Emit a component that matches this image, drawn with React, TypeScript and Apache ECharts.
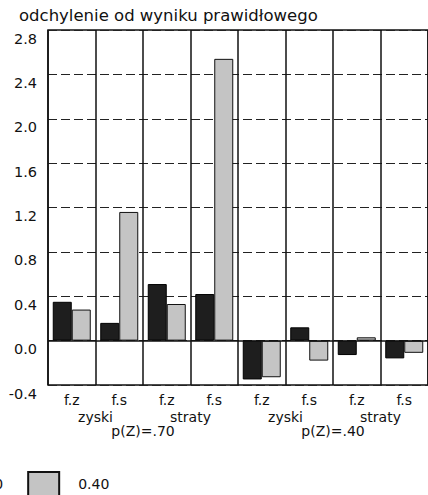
import React, { useEffect, useRef } from "react";
import * as echarts from "echarts";

const categories = ["f.z", "f.s", "f.z", "f.s", "f.z", "f.s", "f.z", "f.s"];
const subGroups = ["zyski", "straty", "zyski", "straty"];
const groups = ["p(Z)=.70", "p(Z)=.40"];
const darkName = "0.70";
const lightName = "0.40";
const darkValues = [0.35, 0.16, 0.51, 0.42, -0.35, 0.12, -0.13, -0.16];
const lightValues = [0.28, 1.16, 0.33, 2.54, -0.33, -0.18, 0.03, -0.11];
const yTicks = { min: -0.4, max: 2.8, interval: 0.4 };

const FONT = "DejaVu Sans";

export default function App() {
  const ref = useRef<HTMLDivElement>(null);
  useEffect(() => {
    document.body.style.margin = "0";
    const chart = echarts.init(ref.current!, null, { renderer: "svg" });
    const xLabelBase = {
      color: "#111",
      fontFamily: FONT,
      fontSize: 14,
      margin: 8,
    };
    chart.setOption({
      animation: false,
      backgroundColor: "#ffffff",
      title: {
        text: "odchylenie od wyniku prawidłowego",
        left: 14,
        top: 2,
        textStyle: { fontFamily: FONT, fontSize: 16.5, fontWeight: "normal", color: "#111" },
      },
      legend: {
        left: -84,
        top: 466,
        itemWidth: 31,
        itemHeight: 24,
        itemGap: 24,
        icon: "rect",
        textStyle: { fontFamily: FONT, fontSize: 14, color: "#111", padding: [0, 0, 8, 14] },
        data: [darkName, lightName],
      },
      grid: {
        left: 48,
        right: -9,
        top: 30,
        bottom: 110,
        show: true,
        borderColor: "#111",
        borderWidth: 1.5,
      },
      xAxis: [
        {
          type: "category",
          data: categories,
          position: "bottom",
          axisLine: { show: false },
          axisTick: { show: false },
          splitLine: { show: true, interval: 0, lineStyle: { color: "#111", width: 1.5 } },
          axisLabel: { ...xLabelBase, interval: 0 },
        },
        {
          type: "category",
          data: subGroups,
          position: "bottom",
          offset: 17,
          axisLine: { show: false },
          axisTick: { show: false },
          splitLine: { show: false },
          axisLabel: { ...xLabelBase, interval: 0 },
        },
        {
          type: "category",
          data: groups,
          position: "bottom",
          offset: 31,
          axisLine: { show: false },
          axisTick: { show: false },
          splitLine: { show: false },
          axisLabel: { ...xLabelBase, interval: 0 },
        },
      ],
      yAxis: {
        type: "value",
        min: yTicks.min,
        max: yTicks.max,
        interval: yTicks.interval,
        axisLine: { show: false },
        axisTick: { show: false },
        axisLabel: {
          color: "#111",
          fontFamily: FONT,
          fontSize: 14.5,
          margin: 11,
          verticalAlign: "top",
          padding: [1, 0, 0, 0],
          formatter: (v: number) => v.toFixed(1),
        },
        splitLine: { show: true, lineStyle: { color: "#222", type: [9, 4], width: 1.2 } },
      },
      series: [
        {
          name: darkName,
          type: "bar",
          xAxisIndex: 0,
          data: darkValues,
          barGap: "0%",
          barCategoryGap: "20%",
          itemStyle: { color: "#1e1e1e", borderColor: "#000", borderWidth: 1 },
          markLine: {
            silent: true,
            symbol: "none",
            label: { show: false },
            lineStyle: { color: "#111", type: "solid", width: 1.5 },
            data: [{ yAxis: 0 }],
          },
        },
        {
          name: lightName,
          type: "bar",
          xAxisIndex: 0,
          data: lightValues,
          barGap: "0%",
          barCategoryGap: "20%",
          itemStyle: { color: "#c4c4c4", borderColor: "#111", borderWidth: 1 },
        },
      ],
    });
    return () => chart.dispose();
  }, []);
  return <div ref={ref} style={{ width: 428, height: 495 }} />;
}
